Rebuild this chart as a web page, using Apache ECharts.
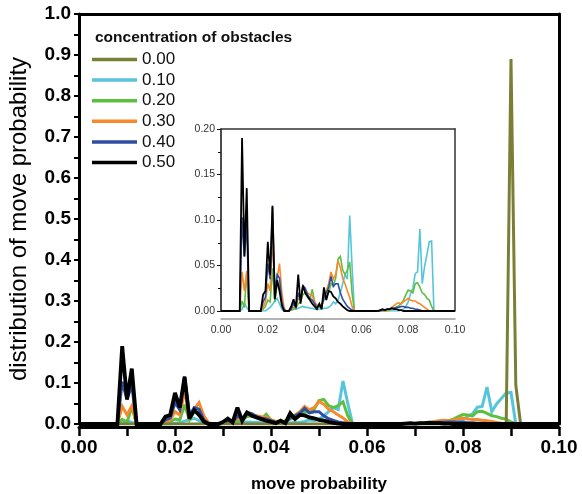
<!DOCTYPE html>
<html>
<head>
<meta charset="utf-8">
<script src="https://cdn.jsdelivr.net/npm/echarts@6/dist/echarts.min.js"></script>
<style>
  html, body { margin: 0; padding: 0; background: #fff; }
  #chart { width: 582px; height: 494px; }
</style>
</head>
<body>
<div id="chart"></div>
<script>
// Distribution of move probability, one histogram per obstacle concentration.
// Each array holds 101 bins: move probability 0.000, 0.001, ..., 0.100.
const BIN_WIDTH = 0.001;

const seriesNames = ['0.00', '0.10', '0.20', '0.30', '0.40', '0.50'];

const conc000 = [
  0, 0, 0, 0, 0, 0, 0, 0, 0, 0,
  0, 0, 0, 0, 0, 0, 0, 0, 0, 0,
  0, 0, 0, 0, 0, 0, 0, 0, 0, 0,
  0, 0, 0, 0, 0, 0, 0, 0, 0, 0,
  0, 0, 0, 0, 0, 0, 0, 0, 0, 0,
  0, 0, 0, 0, 0, 0, 0, 0, 0, 0,
  0, 0, 0, 0, 0, 0, 0, 0, 0, 0,
  0, 0, 0, 0, 0, 0, 0, 0, 0, 0,
  0, 0, 0, 0, 0, 0, 0, 0, 0, 0,
  0.89, 0.095, 0, 0, 0, 0, 0, 0, 0, 0,
  0
];

const conc010 = [
  0, 0, 0, 0, 0, 0, 0, 0, 0, 0.002,
  0.008, 0.004, 0, 0, 0, 0, 0, 0, 0, 0,
  0.002, 0.004, 0.007, 0.011, 0.014, 0.008, 0.002, 0, 0, 0,
  0.001, 0.002, 0.002, 0.003, 0.004, 0.005, 0.004, 0.004, 0.003, 0.003,
  0.002, 0.002, 0.002, 0.002, 0.003, 0.003, 0.004, 0.006, 0.010, 0.008,
  0.012, 0.020, 0.030, 0.040, 0.035, 0.105, 0.050, 0, 0, 0,
  0, 0, 0, 0, 0, 0, 0, 0, 0, 0,
  0, 0, 0, 0, 0, 0, 0, 0.001, 0.002, 0.005,
  0.010, 0.019, 0.025, 0.041, 0.043, 0.090, 0.030, 0.049, 0.062, 0.076,
  0.077, 0, 0, 0, 0, 0, 0, 0, 0, 0,
  0
];

const conc020 = [
  0, 0, 0, 0, 0, 0, 0, 0, 0, 0.011,
  0.004, 0.042, 0, 0, 0, 0, 0, 0, 0.002, 0.005,
  0.012, 0.010, 0.047, 0.010, 0.030, 0.028, 0.010, 0.001, 0, 0,
  0.001, 0.002, 0.003, 0.008, 0.010, 0.018, 0.020, 0.015, 0.012, 0.024,
  0.010, 0.005, 0.004, 0.008, 0.012, 0.015, 0.020, 0.030, 0.028, 0.036,
  0.057, 0.060, 0.045, 0.040, 0.045, 0.054, 0.020, 0, 0, 0,
  0, 0, 0, 0, 0, 0, 0, 0, 0, 0,
  0, 0, 0.001, 0.002, 0.003, 0.004, 0.006, 0.008, 0.012, 0.018,
  0.023, 0.022, 0.020, 0.030, 0.031, 0.026, 0.020, 0.018, 0.014, 0.012,
  0.005, 0, 0, 0, 0, 0, 0, 0, 0, 0,
  0
];

const conc030 = [
  0, 0, 0, 0, 0, 0, 0, 0, 0, 0.043,
  0.022, 0.044, 0, 0, 0, 0, 0, 0, 0.004, 0.010,
  0.030, 0.022, 0.082, 0.018, 0.036, 0.052, 0.020, 0.003, 0, 0,
  0.001, 0.004, 0.004, 0.014, 0.012, 0.026, 0.022, 0.020, 0.018, 0.017,
  0.010, 0.006, 0.007, 0.005, 0.014, 0.022, 0.030, 0.043, 0.035, 0.040,
  0.055, 0.048, 0.036, 0.030, 0.022, 0.015, 0.005, 0, 0, 0,
  0, 0, 0, 0, 0, 0, 0, 0, 0, 0,
  0, 0.001, 0.002, 0.004, 0.006, 0.008, 0.009, 0.008, 0.010, 0.012,
  0.014, 0.012, 0.011, 0.011, 0.009, 0.008, 0.006, 0.004, 0.002, 0,
  0, 0, 0, 0, 0, 0, 0, 0, 0, 0,
  0
];

const conc040 = [
  0, 0, 0, 0, 0, 0, 0, 0, 0, 0.103,
  0.060, 0.095, 0, 0, 0, 0, 0, 0, 0.010, 0.015,
  0.052, 0.035, 0.116, 0.020, 0.040, 0.036, 0.010, 0.001, 0, 0,
  0.002, 0.008, 0.004, 0.020, 0.012, 0.028, 0.025, 0.018, 0.014, 0.012,
  0.008, 0.004, 0.006, 0.004, 0.015, 0.020, 0.026, 0.038, 0.027, 0.030,
  0.030, 0.020, 0.013, 0.009, 0.005, 0.003, 0.001, 0, 0, 0,
  0, 0, 0, 0, 0, 0, 0, 0, 0, 0.001,
  0.001, 0.002, 0.002, 0.003, 0.003, 0.004, 0.004, 0.005, 0.005, 0.004,
  0.004, 0.003, 0.003, 0.002, 0.002, 0.001, 0, 0, 0, 0,
  0, 0, 0, 0, 0, 0, 0, 0, 0, 0,
  0
];

const conc050 = [
  0, 0, 0, 0, 0, 0, 0, 0, 0, 0.190,
  0.060, 0.135, 0, 0, 0, 0, 0, 0, 0.018, 0.022,
  0.076, 0.040, 0.115, 0.013, 0.034, 0.022, 0.006, 0, 0, 0,
  0.005, 0.013, 0.004, 0.040, 0.008, 0.028, 0.020, 0.016, 0.012, 0.008,
  0.005, 0.002, 0.008, 0.002, 0.026, 0.012, 0.022, 0.021, 0.016, 0.014,
  0.010, 0.008, 0.005, 0.003, 0.001, 0, 0, 0, 0, 0,
  0, 0, 0, 0, 0, 0, 0, 0, 0.001, 0.002,
  0.001, 0.002, 0.002, 0.003, 0.002, 0.002, 0.001, 0.001, 0, 0,
  0, 0, 0, 0, 0, 0, 0, 0, 0, 0,
  0, 0, 0, 0, 0, 0, 0, 0, 0, 0,
  0
];

const seriesValues = [conc000, conc010, conc020, conc030, conc040, conc050];
const seriesColors = ['#7b7f35', '#56c5da', '#5cbf3f', '#f7892b', '#2e4ea3', '#000000'];

const mainTicksX = { min: 0, max: 0.1, interval: 0.02 };
const mainTicksY = { min: 0, max: 1, interval: 0.1 };
const insetTicksY = { min: 0, max: 0.2, interval: 0.05 };

const FONT = '"Liberation Sans", Arial, Helvetica, sans-serif';

function toPairs(values) {
  return values.map((v, i) => [i * BIN_WIDTH, v]);
}

// draw order: coloured curves first, olive above them, black on top
const drawOrder = [1, 2, 3, 4, 0, 5];

const series = [];
drawOrder.forEach((k) => {
  series.push({
    name: seriesNames[k],
    type: 'line',
    xAxisIndex: 0,
    yAxisIndex: 0,
    data: toPairs(seriesValues[k]),
    showSymbol: false,
    symbol: 'none',
    clip: true,
    color: seriesColors[k],
    lineStyle: { width: k === 5 ? 3.8 : 3, color: seriesColors[k], join: 'miter', miterLimit: 3 },
    z: 2 + drawOrder.indexOf(k)
  });
});
// inset: zoom of the low range, without the 0.00 curve
drawOrder.filter((k) => k !== 0).forEach((k) => {
  series.push({
    name: seriesNames[k],
    type: 'line',
    xAxisIndex: 2,
    yAxisIndex: 2,
    data: toPairs(seriesValues[k]),
    showSymbol: false,
    symbol: 'none',
    clip: true,
    color: seriesColors[k],
    lineStyle: { width: k === 5 ? 1.8 : 1.6, color: seriesColors[k], join: 'miter', miterLimit: 3 },
    z: 12 + drawOrder.indexOf(k)
  });
});

const blackLine = (w) => ({ show: true, onZero: false, lineStyle: { color: '#000', width: w } });

const option = {
  animation: false,
  backgroundColor: '#fff',
  textStyle: { fontFamily: FONT },
  title: {
    text: 'concentration of obstacles',
    left: 95,
    top: 30,
    padding: 0,
    textStyle: { fontSize: 15.5, fontWeight: 'bold', color: '#111', fontFamily: FONT }
  },
  legend: {
    data: seriesNames,
    orient: 'vertical',
    left: 92,
    top: 51,
    padding: 0,
    itemWidth: 45,
    itemHeight: 3.5,
    itemGap: 3.6,
    icon: 'rect',
    selectedMode: false,
    textStyle: { fontSize: 17, lineHeight: 17, color: '#111', fontFamily: FONT }
  },
  grid: [
    { left: 79, top: 14, width: 480, height: 410, outerBoundsMode: 'none', containLabel: false },
    { left: 221, top: 129, width: 234, height: 182, outerBoundsMode: 'none', containLabel: false,
      show: true, backgroundColor: '#fff', borderWidth: 0, z: 10 }
  ],
  xAxis: [
    {
      gridIndex: 0, type: 'value', ...mainTicksX, offset: 3,
      axisLine: blackLine(3),
      axisTick: { show: true, length: 9, lineStyle: { color: '#000', width: 2.5 } },
      minorTick: { show: true, splitNumber: 2, length: 9, lineStyle: { color: '#000', width: 2.5 } },
      splitLine: { show: false },
      axisLabel: { formatter: (v) => v.toFixed(2), fontSize: 19, fontWeight: 'bold', color: '#000', margin: 11, fontFamily: FONT },
      name: 'move probability', nameLocation: 'middle', nameGap: 49,
      nameTextStyle: { fontSize: 17, fontWeight: 'bold', color: '#000', fontFamily: FONT }
    },
    {
      gridIndex: 0, type: 'value', position: 'top', min: 0, max: 0.1,
      axisLine: blackLine(3), axisTick: { show: false }, axisLabel: { show: false }, splitLine: { show: false }
    },
    {
      gridIndex: 1, type: 'value', min: 0, max: 0.1, interval: 0.02, offset: 8,
      axisLine: { show: true, onZero: false, lineStyle: { color: '#9a9a9a', width: 1.5 } },
      axisTick: { show: false },
      splitLine: { show: false },
      axisLabel: { formatter: (v) => v.toFixed(2), fontSize: 10.5, color: '#333', margin: 6, fontFamily: FONT },
      z: 11
    },
    {
      gridIndex: 1, type: 'value', position: 'top', min: 0, max: 0.1,
      axisLine: { show: true, onZero: false, lineStyle: { color: '#333', width: 1.5 } },
      axisTick: { show: false }, axisLabel: { show: false }, splitLine: { show: false }, z: 11
    }
  ],
  yAxis: [
    {
      gridIndex: 0, type: 'value', ...mainTicksY,
      axisLine: blackLine(3),
      axisTick: { show: true, length: 5, lineStyle: { color: '#000', width: 2 } },
      minorTick: { show: true, splitNumber: 2, length: 5, lineStyle: { color: '#000', width: 2 } },
      splitLine: { show: false },
      axisLabel: { formatter: (v) => v.toFixed(1), fontSize: 19, fontWeight: 'bold', color: '#000', margin: 8, fontFamily: FONT },
      name: 'distribution of move probability', nameLocation: 'middle', nameRotate: 90, nameGap: 48,
      nameTextStyle: { fontSize: 24, fontWeight: 'normal', color: '#000', fontFamily: FONT }
    },
    {
      gridIndex: 0, type: 'value', position: 'right', min: 0, max: 1,
      axisLine: blackLine(3), axisTick: { show: false }, axisLabel: { show: false }, splitLine: { show: false }
    },
    {
      gridIndex: 1, type: 'value', ...insetTicksY,
      axisLine: { show: true, onZero: false, lineStyle: { color: '#111', width: 1.5 } },
      axisTick: { show: true, length: 4, lineStyle: { color: '#111', width: 1 } },
      minorTick: { show: true, splitNumber: 2, length: 3, lineStyle: { color: '#111', width: 1 } },
      splitLine: { show: false },
      axisLabel: { formatter: (v) => v.toFixed(2), fontSize: 10.5, color: '#333', margin: 6, fontFamily: FONT },
      z: 11
    },
    {
      gridIndex: 1, type: 'value', position: 'right', min: 0, max: 0.2,
      axisLine: { show: true, onZero: false, lineStyle: { color: '#333', width: 1.5 } },
      axisTick: { show: false }, axisLabel: { show: false }, splitLine: { show: false }, z: 11
    }
  ],
  series: series
};

const chart = echarts.init(document.getElementById('chart'), null, { renderer: 'canvas' });
chart.setOption(option);
</script>
</body>
</html>
